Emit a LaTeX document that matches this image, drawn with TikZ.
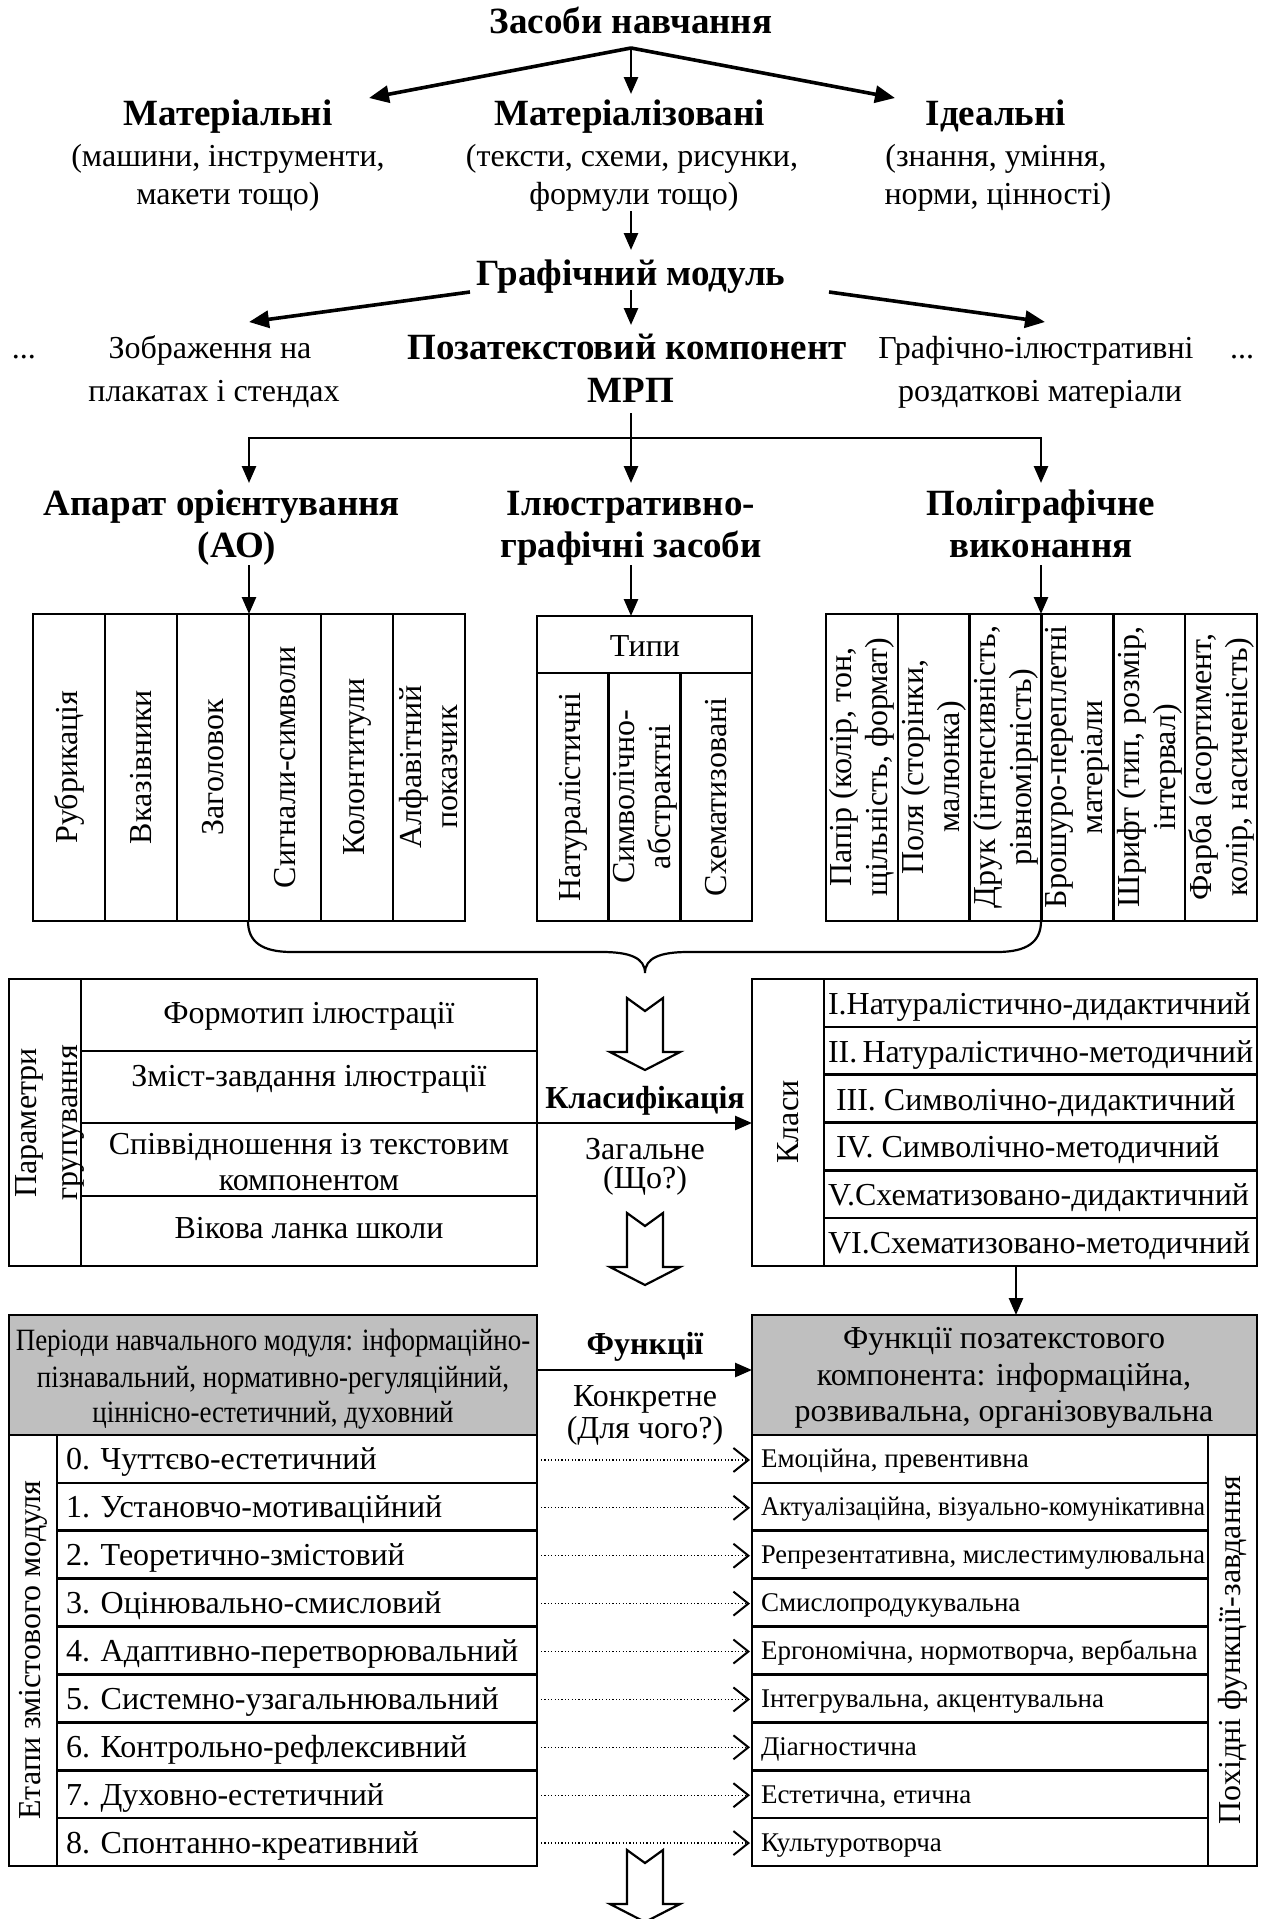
\documentclass[tikz,border=0pt]{standalone}
\usepackage{fontspec}
\usepackage{graphicx}
\setmainfont{Liberation Serif}
\newfontfamily\narrowserif{Liberation Serif}[FakeStretch=0.87]
\usetikzlibrary{arrows.meta}

\newcommand\bodyfs{\fontsize{32}{36}\selectfont}
\newcommand\headfs{\fontsize{37}{44}\selectfont\bfseries}
\newcommand\funcfs{\fontsize{27}{30}\selectfont}
\newcommand\periodfs{\narrowserif\fontsize{31}{37}\selectfont}

% squeeze a line horizontally when it is wider than the given width
\newsavebox\fitbox
\newcommand\fitw[2]{\sbox\fitbox{#2}%
  \ifdim\wd\fitbox>#1\relax
    \edef\fitnat{\the\wd\fitbox}%
    \pgfmathsetmacro\fitfactor{#1/\fitnat}%
    \scalebox{\fitfactor}[1]{\usebox\fitbox}%
  \else\usebox\fitbox\fi}

\begin{document}
\begin{tikzpicture}[x=1pt,y=-1pt,
  every node/.style={inner sep=0pt,outer sep=0pt},
  bl/.style={font=\bodyfs,anchor=base},
  hb/.style={font=\headfs,anchor=base},
  kb/.style={font=\bodyfs\bfseries,anchor=base},
  rot/.style={font=\bodyfs,rotate=90,align=center},
  rule/.style={line width=2.6pt},
  box/.style={draw,line width=2.6pt},
  arr/.style={line width=2.6pt,-{Triangle[length=17pt,width=14pt]}},
  bigarr/.style={line width=3.6pt,-{Triangle[length=20pt,width=17pt]}},
  dotarr/.style={line width=1.2pt,dash pattern=on 1.2pt off 2.2pt,
    -{Straight Barb[length=15pt,width=24pt,line width=2pt]}},
  greyfill/.style={fill=black!25},
  hollow/.pic={\draw[line width=2.2pt,fill=white,line join=miter]
    (-18,0) -- (0,13) -- (18,0) -- (18,54) -- (35,54) -- (0,72)
    -- (-35,54) -- (-18,54) -- cycle;}
]
\useasboundingbox (0,0) rectangle (1275,1919);

% ---------- means of teaching ----------
\node[hb] (zasoby) at (631,34) {Засоби навчання};
\node[hb] (material) at (228,125) {Матеріальні};
\node[bl] (material1) at (228,166) {(машини, інструменти,};
\node[bl] (material2) at (228,204) {макети тощо)};
\node[hb] (materialized) at (630,125) {Матеріалізовані};
\node[bl] (materialized1) at (632,166) {(тексти, схеми, рисунки,};
\node[bl] (materialized2) at (634,204) {формули тощо)};
\node[hb] (ideal) at (996,125) {Ідеальні};
\node[bl] (ideal1) at (996,166) {(знання, уміння,};
\node[bl] (ideal2) at (998,204) {норми, цінності)};

\coordinate (fork) at (631,48);
\coordinate (materialIn) at (369,98);
\coordinate (materializedIn) at (631,94);
\coordinate (idealIn) at (895,98);
\draw[bigarr] (fork) -- (materialIn);
\draw[arr] (fork) -- (materializedIn);
\draw[bigarr] (fork) -- (idealIn);

% ---------- graphic module ----------
\node[hb] (grmod) at (631,285) {Графічний модуль};
\coordinate (materializedOut) at (631,211);
\coordinate (grmodIn) at (631,250);
\draw[arr] (materializedOut) -- (grmodIn);

\node[bl] (dotsL) at (24,358) {...};
\node[bl] (posters1) at (210,358) {Зображення на};
\node[bl] (posters2) at (214,401) {плакатах і стендах};
\node[hb] (mrp1) at (627,359) {Позатекстовий компонент};
\node[hb] (mrp2) at (631,402) {МРП};
\node[bl] (handout1) at (1036,358) {Графічно-ілюстративні};
\node[bl] (handout2) at (1040,401) {роздаткові матеріали};
\node[bl] (dotsR) at (1242,358) {...};

\coordinate (grmodL) at (470,292);
\coordinate (grmodM) at (631,290);
\coordinate (grmodR) at (829,292);
\coordinate (postersIn) at (249,322);
\coordinate (mrpIn) at (631,325);
\coordinate (handoutIn) at (1045,322);
\draw[bigarr] (grmodL) -- (postersIn);
\draw[arr] (grmodM) -- (mrpIn);
\draw[bigarr] (grmodR) -- (handoutIn);

% ---------- components of the extratext part ----------
\node[hb] (ao1) at (222,515) {Апарат орієнтування};
\node[hb] (ao2) at (237,557) {(АО)};
\node[hb] (ilg1) at (631,515) {Ілюстративно-};
\node[hb] (ilg2) at (631,557) {графічні засоби};
\node[hb] (poly1) at (1041,515) {Поліграфічне};
\node[hb] (poly2) at (1041,557) {виконання};

\coordinate (mrpOut) at (631,413);
\coordinate (busL) at (249,438);
\coordinate (busM) at (631,438);
\coordinate (busR) at (1041,438);
\coordinate (aoIn) at (249,483);
\coordinate (ilgIn) at (631,483);
\coordinate (polyIn) at (1041,483);
\draw[rule] (mrpOut) -- (busM);
\draw[rule,line cap=rect] (busL) -- (busR);
\draw[arr] (busL) -- (aoIn);
\draw[arr] (busM) -- (ilgIn);
\draw[arr] (busR) -- (polyIn);

% orientation apparatus
\draw[box] (33,614) rectangle (465,921);
\foreach \k in {1,...,5} \draw[rule] ({33+72*\k},614) -- ({33+72*\k},921);
\node[rot] (rubr) at (69,767) {Рубрикація};
\node[rot] (vkaz) at (141,767) {Вказівники};
\node[rot] (zagol) at (213,767) {Заголовок};
\node[rot] (sygn) at (285,767) {Сигнали-символи};
\node[rot] (kolon) at (357,767) {Колонтитули};
\node[rot] (alfa) at (429,767) {Алфавітний\\показчик};
\coordinate (aoOut) at (249,565);
\coordinate (aoBox) at (249,614);
\draw[arr] (aoOut) -- (aoBox);

% illustrative-graphic means
\draw[box] (537,616) rectangle (752,921);
\draw[rule] (537,673) -- (752,673);
\draw[rule] (608.7,673) -- (608.7,921);
\draw[rule] (680.3,673) -- (680.3,921);
\node[bl] (types) at (645,656) {Типи};
\node[rot] (nat) at (573,797) {Натуралістичні};
\node[rot] (symb) at (645,797) {Символічно-\\абстрактні};
\node[rot] (schem) at (716,797) {Схематизовані};
\coordinate (ilgOut) at (631,565);
\coordinate (ilgBox) at (631,616);
\draw[arr] (ilgOut) -- (ilgBox);

% printing execution
\draw[box] (826,614) rectangle (1257,921);
\foreach \k in {1,...,5} \draw[rule] ({826+71.83*\k},614) -- ({826+71.83*\k},921);
\node[rot] (paper) at (862,767) {Папір (колір, тон,\\щільність, формат)};
\node[rot] (fields) at (934,767) {Поля (сторінки,\\малюнка)};
\node[rot] (print) at (1005.6,767) {Друк (інтенсивність,\\рівномірність)};
\node[rot] (binding) at (1077.4,767) {Брошуро-переплетні\\матеріали};
\node[rot] (typeface) at (1149.3,767) {Шрифт (тип, розмір,\\інтервал)};
\node[rot] (ink) at (1221.1,767) {Фарба (асортимент,\\колір, насиченість)};
\coordinate (polyOut) at (1041,565);
\coordinate (polyBox) at (1041,614);
\draw[arr] (polyOut) -- (polyBox);

% brace gathering the three groups
\coordinate (braceL) at (248,921);
\coordinate (braceTip) at (645,973);
\coordinate (braceR) at (1041,921);
\draw[line width=2.2pt] (braceL) .. controls (248,942) and (262,952) .. (292,952)
  -- (602,952) .. controls (630,952) and (645,958) .. (braceTip)
  .. controls (645,958) and (660,952) .. (688,952)
  -- (997,952) .. controls (1027,952) and (1041,942) .. (braceR);

% ---------- grouping parameters and classes ----------
\draw[box] (9,979) rectangle (537,1266);
\draw[rule] (81,979) -- (81,1266);
\foreach \y in {1051,1123,1196} \draw[rule] (81,\y) -- (537,\y);
\node[rot,font=\fontsize{32}{41}\selectfont] (params) at (50,1123) {Параметри\\групування};
\node[bl] (par1) at (309,1023) {Формотип ілюстрації};
\node[bl] (par2) at (309,1086) {Зміст-завдання ілюстрації};
\node[bl] (par3a) at (309,1154) {Співвідношення із текстовим};
\node[bl] (par3b) at (309,1190) {компонентом};
\node[bl] (par4) at (309,1238) {Вікова ланка школи};

\pic (toClassify) at (645,998) {hollow};
\node[kb] (klas) at (645,1108) {Класифікація};
\node[bl] (zag1) at (645,1159) {Загальне};
\node[bl] (zag2) at (645,1188) {(Що?)};
\coordinate (paramsOut) at (537,1123);
\coordinate (classesIn) at (752,1123);
\draw[arr] (paramsOut) -- (classesIn);
\pic (toFunctions) at (645,1213) {hollow};

\draw[box] (752,979) rectangle (1257,1266);
\draw[rule] (824,979) -- (824,1266);
\foreach \k in {1,...,5} \draw[rule] (824,{979+47.83*\k}) -- (1257,{979+47.83*\k});
\node[rot] (klasy) at (788,1122) {Класи};
\node[bl,anchor=base west] (cls1) at (828,1014) {\fitw{428pt}{I.Натуралістично-дидактичний}};
\node[bl,anchor=base west] (cls2) at (828,1062) {\fitw{428pt}{II.\,Натуралістично-методичний}};
\node[bl,anchor=base west] (cls3) at (836,1110) {\fitw{420pt}{III. Символічно-дидактичний}};
\node[bl,anchor=base west] (cls4) at (836,1157) {\fitw{420pt}{IV. Символічно-методичний}};
\node[bl,anchor=base west] (cls5) at (828,1205) {\fitw{428pt}{V.Схематизовано-дидактичний}};
\node[bl,anchor=base west] (cls6) at (828,1253) {\fitw{428pt}{VI.Схематизовано-методичний}};

\coordinate (classesOut) at (1016,1266);
\coordinate (functionsIn) at (1016,1315);
\draw[arr] (classesOut) -- (functionsIn);

% ---------- periods and functions ----------
\draw[box,greyfill] (9,1315) rectangle (537,1435);
\node[font=\periodfs,anchor=base] (per1) at (273,1350) {Періоди навчального модуля: інформаційно-};
\node[font=\periodfs,anchor=base] (per2) at (273,1387) {пізнавальний, нормативно-регуляційний,};
\node[font=\periodfs,anchor=base] (per3) at (273,1422) {ціннісно-естетичний, духовний};

\draw[box,greyfill] (752,1315) rectangle (1257,1435);
\node[bl] (fn1) at (1004,1348) {Функції позатекстового};
\node[bl] (fn2) at (1004,1385) {компонента: інформаційна,};
\node[bl] (fn3) at (1004,1421) {розвивальна, організовувальна};

\node[kb] (func) at (645,1354) {Функції};
\node[bl] (konk1) at (645,1406) {Конкретне};
\node[bl] (konk2) at (645,1438) {(Для чого?)};
\coordinate (periodsOut) at (537,1370);
\coordinate (functionsLeft) at (752,1370);
\draw[arr] (periodsOut) -- (functionsLeft);

% stages of the content module
\draw[box] (9,1435) rectangle (537,1866);
\draw[rule] (57,1435) -- (57,1866);
\foreach \k in {1,...,8} \draw[rule] (57,{1435+47.89*\k}) -- (537,{1435+47.89*\k});
\node[rot] (etapy) at (33,1650) {Етапи змістового модуля};
\foreach \t [count=\i from 0] in {0. Чуттєво-естетичний,1. Установчо-мотиваційний,
    2. Теоретично-змістовий,3. Оцінювально-смисловий,4. Адаптивно-перетворювальний,
    5. Системно-узагальнювальний,6. Контрольно-рефлексивний,7. Духовно-естетичний,
    8. Спонтанно-креативний}{
  \pgfmathsetmacro\c{1435+47.89*(\i+0.5)}
  \node[bl,anchor=base west] (stage\i) at (66,{\c+11}) {\t};
}

% derived functions-tasks
\draw[box] (752,1435) rectangle (1257,1866);
\draw[rule] (1208,1435) -- (1208,1866);
\foreach \k in {1,...,8} \draw[rule] (752,{1435+47.89*\k}) -- (1208,{1435+47.89*\k});
\node[rot] (pokhidni) at (1233,1650) {Похідні функції-завдання};
\foreach \t [count=\i from 0] in {{Емоційна, превентивна},{Актуалізаційна, візуально-комунікативна},
    {Репрезентативна, мислестимулювальна},Смислопродукувальна,
    {Ергономічна, нормотворча, вербальна},{Інтегрувальна, акцентувальна},
    Діагностична,{Естетична, етична},Культуротворча}{
  \pgfmathsetmacro\c{1435+47.89*(\i+0.5)}
  \node[font=\funcfs,anchor=base west] (task\i) at (761,{\c+9}) {\fitw{444pt}{\t}};
  \coordinate (stageOut\i) at (541,{\c+1});
  \coordinate (taskIn\i) at (750,{\c+1});
  \draw[dotarr] (stageOut\i) -- (taskIn\i);
}

\begin{scope}
  \clip (0,0) rectangle (1275,1919);
  \pic (onward) at (645,1850) {hollow};
\end{scope}
\end{tikzpicture}
\end{document}
